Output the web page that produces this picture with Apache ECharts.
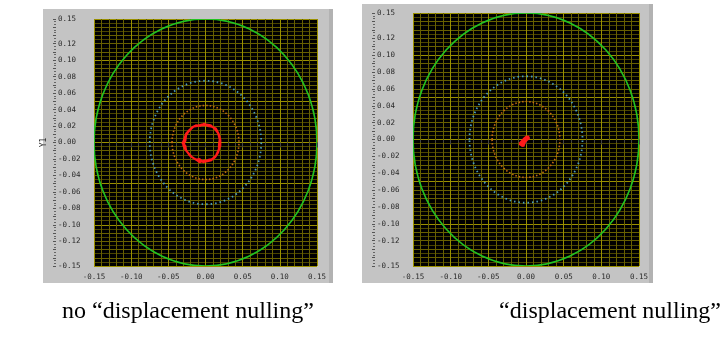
<!DOCTYPE html>
<html>
<head>
<meta charset="utf-8">
<script src="https://cdn.jsdelivr.net/npm/echarts@6/dist/echarts.min.js"></script>
<style>
html,body{margin:0;padding:0;background:#fff;}
#c{width:723px;height:338px;}
</style>
</head>
<body>
<div id="c"></div>
<script>
// ---- data ----
const axisMin = -0.15, axisMax = 0.15;
const xTickLabels = ['-0.15','-0.10','-0.05','0.00','0.05','0.10','0.15'];
const yTickLabels = ['0.15','0.12','0.10','0.08','0.06','0.04','0.02','0.00','-0.02','-0.04','-0.06','-0.08','-0.10','-0.12','-0.15'];
// reference circles: [cx, cy, radius]
const greenCircle = [[0, 0, 0.15]];
const blueCircle = [[0, 0, 0.075]];
const orangeCircle = [[0, 0, 0.045]];
const captions = ['no \u201cdisplacement nulling\u201d', '\u201cdisplacement nulling\u201d'];
// red trajectory without nulling (ring, several passes)
const trajNoNulling = [
 [0.000,0.021],[0.006,0.020],[0.011,0.018],[0.016,0.013],[0.019,0.007],[0.020,0.001],[0.019,-0.006],[0.017,-0.012],[0.013,-0.018],[0.007,-0.022],[0.001,-0.023],[-0.005,-0.023],[-0.010,-0.022],[-0.016,-0.019],[-0.021,-0.016],[-0.025,-0.011],[-0.028,-0.006],[-0.029,0.000],[-0.028,0.006],[-0.026,0.011],[-0.022,0.015],[-0.017,0.019],[-0.011,0.020],[-0.005,0.022],[0.001,0.022],
 [0.007,0.021],[0.013,0.016],[0.017,0.011],[0.019,0.004],[0.018,-0.003],[0.018,-0.009],[0.015,-0.015],[0.010,-0.020],[0.004,-0.021],[-0.003,-0.024],[-0.008,-0.020],[-0.013,-0.021],[-0.019,-0.017],[-0.023,-0.013],[-0.027,-0.009],[-0.030,-0.003],[-0.027,0.002],[-0.029,0.004],[-0.026,0.009],[-0.023,0.013],[-0.019,0.017],[-0.013,0.021],[-0.007,0.020],[-0.002,0.023],[0.003,0.020],
 [0.009,0.019],[0.014,0.017],[0.018,0.010],[0.020,0.003],[0.020,-0.004],[0.017,-0.010],[0.014,-0.016],[0.009,-0.020],[0.003,-0.022],[-0.002,-0.022],[-0.008,-0.024],[-0.014,-0.020],[-0.018,-0.018],[-0.022,-0.014],[-0.026,-0.010],[-0.027,-0.004],[-0.031,-0.001],[-0.029,0.003],[-0.027,0.008],[-0.024,0.012],[-0.020,0.016],[-0.015,0.020],[-0.009,0.021],[-0.003,0.021],[0.002,0.021]
];
// red trajectory with nulling (small blob)
const trajNulling = [
 [-0.007,-0.007],[-0.004,-0.003],[-0.002,-0.001],[0.000,0.002],[0.002,0.004],[0.004,0.003],[0.002,0.001],[0.000,-0.001],[-0.003,-0.004],[-0.005,-0.007],
 [-0.008,-0.005],[-0.005,-0.002],[-0.002,0.001],[0.001,0.003],[0.003,0.005],[0.004,0.002],[0.001,0.000],[-0.002,-0.003],[-0.004,-0.008],[-0.007,-0.004]
];

// ---- styles ----
const bright = '#9a9000', mid = '#686000', dim = '#4a4400';
const labelFont = {fontFamily:'DejaVu Sans Mono', fontSize:7.5, color:'#2a2a2a'};

function fmtX(v){
  const r = Math.round(v*100);
  const s = (r/100).toFixed(2);
  return xTickLabels.indexOf(s) >= 0 ? s : '';
}
function fmtY(v){
  const r200 = Math.round(v*200);
  if (r200 % 2 !== 0) return '';
  const s = (r200/200).toFixed(2);
  return yTickLabels.indexOf(s) >= 0 ? s : '';
}

function xAxisFor(gi){
  return {
    gridIndex: gi, type:'value', min: axisMin, max: axisMax, interval: 0.05,
    axisLine:{show:false},
    axisTick:{show:true, length:5, lineStyle:{color:'#444'}},
    minorTick:{show:true, splitNumber:5, length:3, lineStyle:{color:'#444'}},
    splitLine:{show:true, lineStyle:{color:bright, width:1}},
    minorSplitLine:{show:true, lineStyle:{color:mid, width:1}},
    axisLabel:Object.assign({margin:7, formatter:fmtX}, labelFont)
  };
}
function yAxisFor(gi, name){
  return [{
    gridIndex: gi, type:'value', min: axisMin, max: axisMax, interval: 0.005,
    name: name, nameLocation:'middle', nameGap:46, nameRotate:90,
    nameTextStyle:{fontFamily:'DejaVu Sans Mono', fontSize:8, color:'#2a2a2a'},
    axisLine:{show:false}, axisTick:{show:false},
    splitLine:{show:true, lineStyle:{color:[bright,dim,mid,dim,mid,dim,mid,dim,mid,dim], width:1}},
    minorTick:{show:false}, minorSplitLine:{show:false},
    axisLabel:Object.assign({margin:36, align:'left', formatter:fmtY, interval:0}, labelFont)
  },{
    gridIndex: gi, type:'value', min: axisMin, max: axisMax, interval: 0.01,
    position:'left', offset:38,
    axisLine:{show:false}, axisLabel:{show:false},
    splitLine:{show:false}, minorSplitLine:{show:false}, splitArea:{show:false},
    axisTick:{show:true, length:3, lineStyle:{color:'#555'}},
    minorTick:{show:true, splitNumber:3, length:2, lineStyle:{color:'#666'}}
  }];
}

function circleSeries(data, xi, yi, color, width, dash){
  return {
    type:'custom', xAxisIndex:xi, yAxisIndex:yi, data:data, clip:true, silent:true,
    renderItem:function(params, api){
      const c = api.coord([api.value(0), api.value(1)]);
      const s = api.size([api.value(2), api.value(2)]);
      return {type:'ellipse', shape:{cx:c[0], cy:c[1], rx:s[0], ry:s[1]},
        style:{fill:null, stroke:color, lineWidth:width, lineDash:dash}};
    }
  };
}
function trajSeries(data, xi, yi, w){
  return {type:'line', xAxisIndex:xi, yAxisIndex:yi, data:data, showSymbol:false, symbol:'none',
    smooth:false, lineStyle:{color:'#ff1a1a', width:w}, silent:true, animation:false};
}

const chart = echarts.init(document.getElementById('c'), null, {renderer:'canvas'});
chart.setOption({
  animation:false,
  backgroundColor:'#ffffff',
  graphic:[
    {type:'rect', z:-10, shape:{x:43, y:9, width:290, height:274}, style:{fill:'#c4c4c4'}},
    {type:'rect', z:-10, shape:{x:329, y:9, width:4, height:274}, style:{fill:'#b2b2b2'}},
    {type:'rect', z:-10, shape:{x:362, y:4, width:291, height:279}, style:{fill:'#c4c4c4'}},
    {type:'rect', z:-10, shape:{x:649, y:4, width:4, height:279}, style:{fill:'#b2b2b2'}},
    {type:'text', left:62, top:300, style:{text:captions[0], font:'24px "Liberation Serif"', fill:'#000'}},
    {type:'text', right:2, top:300, style:{text:captions[1], font:'24px "Liberation Serif"', fill:'#000'}}
  ],
  grid:[
    {left:94, top:19, width:223, height:247, show:true, backgroundColor:'#000', borderWidth:0},
    {left:413, top:13, width:226, height:253, show:true, backgroundColor:'#000', borderWidth:0}
  ],
  xAxis:[xAxisFor(0), xAxisFor(1)],
  yAxis:[].concat(yAxisFor(0,'Y1'), yAxisFor(1,'')),
  series:[
    circleSeries(greenCircle,0,0,'#22c422',1.6,null),
    circleSeries(blueCircle,0,0,'#4a9cbc',1.8,[1.5,3]),
    circleSeries(orangeCircle,0,0,'#c46a10',1.6,[1.5,2]),
    trajSeries(trajNoNulling,0,0,2),
    circleSeries(greenCircle,1,2,'#22c422',1.6,null),
    circleSeries(blueCircle,1,2,'#4a9cbc',1.8,[1.5,3]),
    circleSeries(orangeCircle,1,2,'#c46a10',1.6,[1.5,2]),
    trajSeries(trajNulling,1,2,3)
  ]
});
</script>
</body>
</html>
